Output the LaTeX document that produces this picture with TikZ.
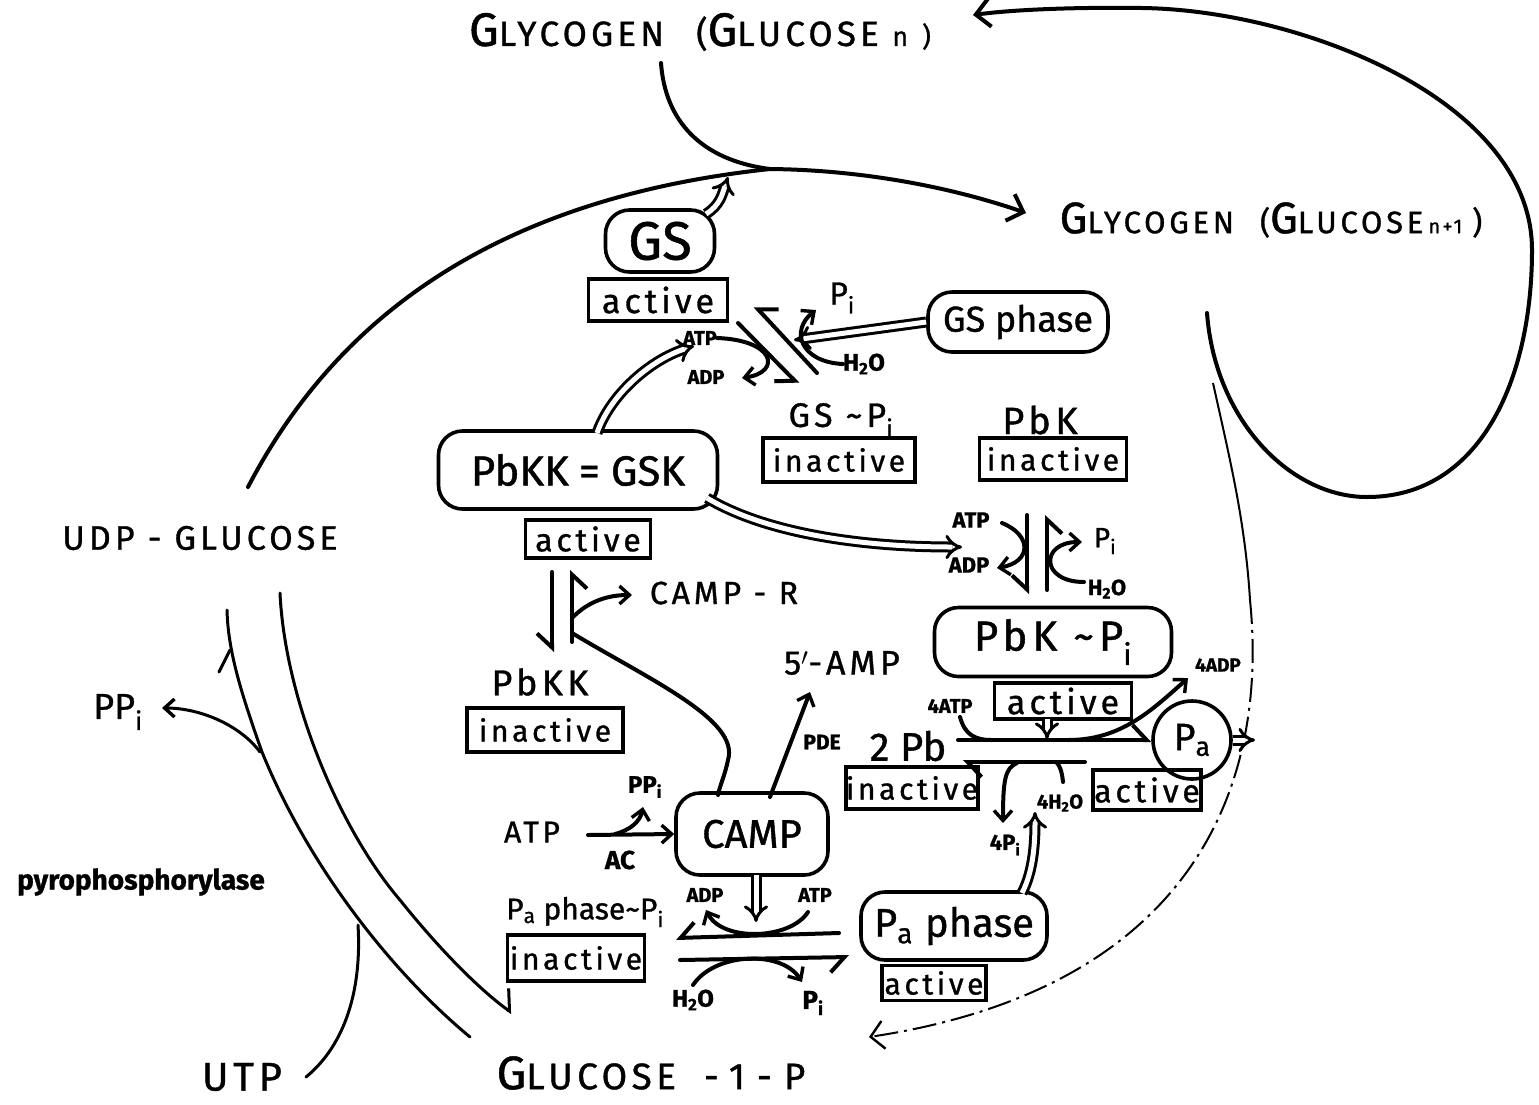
\documentclass[tikz,border=0pt]{standalone}
\usepackage{fontspec}
\setmainfont{Fira Sans}[FakeBold=1]
\newfontfamily\wide{Fira Sans}[LetterSpace=12,FakeBold=1]
\usetikzlibrary{arrows.meta}
\newcommand\fs[1]{\fontsize{#1}{#1}\selectfont}
\newcommand\Gcap[1]{{\fontsize{44}{44}\selectfont #1}}
\newcommand\Gcapb[1]{{\fontsize{47}{47}\selectfont #1}}
\begin{document}
\begin{tikzpicture}[x=1pt,y=-1pt,
  ln/.style={line width=4pt, line cap=round, line join=round},
  thin/.style={line width=3pt, line cap=round, line join=round},
  arr/.style={-{Straight Barb[length=14pt,width=28pt,line width=4pt]}},
  sarr/.style={-{Straight Barb[length=10pt,width=18pt,line width=3.4pt]}},
  hr/.style={-{Straight Barb[right,length=14pt,width=30pt,line width=4pt]}},
  hl/.style={-{Straight Barb[left,length=14pt,width=30pt,line width=4pt]}},
  dbl/.style={double, double distance=5pt, line width=3pt, -{Implies[length=10pt,width=24pt]}},
  lab/.style={inner sep=0pt},
  ebox/.style={draw, line width=3.6pt, rounded corners=24pt, inner sep=0pt},
  sbox/.style={draw, line width=3.6pt, inner sep=0pt},
]
\fill[white] (0,0) rectangle (1539,1104);
\useasboundingbox (0,0) rectangle (1539,1104);

% ---------- big labels ----------
\node[lab, font=\wide\fs{35}] (glyn) at (700,32) {\Gcapb{G}LYCOGEN\hspace{32pt}(\Gcapb{G}LUCOSE \fs{27}n\hspace{14pt})};
\node[lab, font=\wide\fs{31}] (glyn1) at (1271,220) {\Gcap{G}LYCOGEN\hspace{26pt}(\Gcap{G}LUCOSE\,{\fs{20}n+1}\hspace{10pt})};
\node[lab, font=\wide\fs{34}] (udp) at (200,538) {UDP - GLUCOSE};
\node[lab, font=\wide\fs{37}] (g1p) at (651,1073) {\Gcapb{G}LUCOSE\hspace{28pt}-\hspace{10pt}1\hspace{12pt}-\hspace{12pt}P};
\node[lab, font=\wide\fs{40}] (utp) at (242,1077) {UTP};
\node[lab, font=\fs{36}] (ppi) at (118,712) {PP\textsubscript{i}};
\node[lab, font=\bfseries\fs{28}] (pyro) at (141,882) {pyrophosphorylase};

% ---------- GS part ----------
\node[ebox, minimum width=109pt, minimum height=62pt, font=\fs{54}] (gs) at (660,241) {GS};
\node[sbox, minimum width=139pt, minimum height=42pt, font=\wide\fs{34}] (gsact) at (658,300) {active};
\node[lab, font=\fs{32}] (pi1) at (842,298) {P\textsubscript{i}};
\node[ebox, minimum width=180pt, minimum height=60pt, font=\fs{36}] (gsph) at (1018,322) {GS phase};
\node[lab, font=\bfseries\fs{20}] (atp1) at (700,338) {ATP};
\node[lab, font=\bfseries\fs{20}] (adp1) at (706,377) {ADP};
\node[lab, font=\bfseries\fs{24}] (h2o1) at (864,364) {H\textsubscript{2}O};
\node[lab, font=\wide\fs{34}] (gspi) at (841,420) {GS \textasciitilde P\textsubscript{i}};
\node[sbox, minimum width=152pt, minimum height=44pt, font=\wide\fs{30}] (gspiin) at (839,460) {inactive};
\node[lab, font=\wide\fs{38}] (pbk) at (1040,420) {PbK};
\node[sbox, minimum width=147pt, minimum height=42pt, font=\wide\fs{30}] (pbkin) at (1053,459) {inactive};

% ---------- PbKK ----------
\node[ebox, minimum width=279pt, minimum height=78pt, font=\fs{42}] (pbkk) at (578,470) {PbKK\hspace{10pt}= GSK};
\node[sbox, minimum width=125pt, minimum height=38pt, font=\wide\fs{32}] (pbkkact) at (588,539) {active};
\node[lab, font=\wide\fs{32}] (camr) at (724,593) {CAMP - R};
\node[lab, font=\wide\fs{36}] (pbkk2) at (540,682) {PbKK};
\node[sbox, minimum width=156pt, minimum height=44pt, font=\wide\fs{30}] (pbkkin) at (545,730) {inactive};
\node[lab, font=\wide\fs{34}] (amp) at (842,663) {5$'$-AMP};

% ---------- PbK part ----------
\node[lab, font=\bfseries\fs{22}] (atp2) at (971,520) {ATP};
\node[lab, font=\bfseries\fs{22}] (adp2) at (969,565) {ADP};
\node[lab, font=\fs{28}] (pi2) at (1105,541) {P\textsubscript{i}};
\node[lab, font=\bfseries\fs{22}] (h2o2) at (1107,589) {H\textsubscript{2}O};
\node[ebox, minimum width=237pt, minimum height=69pt, font=\wide\fs{42}] (pbkpi) at (1053,642) {PbK \textasciitilde P\textsubscript{i}};
\node[sbox, minimum width=137pt, minimum height=36pt, font=\wide\fs{34}] (pbkpiact) at (1063,701) {active};
\node[lab, font=\bfseries\fs{20}] (atp4) at (950,706) {4ATP};
\node[lab, font=\bfseries\fs{19}] (adp4) at (1218,665) {4ADP};
\node[lab, font=\fs{40}] (pb2) at (908,746) {2 Pb};
\node[sbox, minimum width=127pt, minimum height=42pt, font=\wide\fs{30}] (pbin) at (912,788) {inactive};
\node[draw, circle, line width=3.6pt, minimum size=78pt, inner sep=0pt, font=\fs{38}] (pa) at (1192,740) {P\textsubscript{a}};
\node[sbox, minimum width=108pt, minimum height=40pt, font=\wide\fs{32}] (paact) at (1147,790) {active};
\node[lab, font=\bfseries\fs{20}] (h2o4) at (1060,803) {4H\textsubscript{2}O};
\node[lab, font=\bfseries\fs{22}] (pi4) at (1005,845) {4P\textsubscript{i}};

% ---------- CAMP part ----------
\node[ebox, minimum width=152pt, minimum height=82pt, font=\fs{40}] (camp) at (752,834) {CAMP};
\node[lab, font=\wide\fs{30}] (atp3) at (532,832) {ATP};
\node[lab, font=\bfseries\fs{26}] (ac) at (620,860) {AC};
\node[lab, font=\bfseries\fs{24}] (ppi3) at (645,787) {PP\textsubscript{i}};
\node[lab, font=\bfseries\fs{21}] (pde) at (822,742) {PDE};
\node[lab, font=\fs{30}] (paphpi) at (585,912) {P\textsubscript{a} phase\textasciitilde P\textsubscript{i}};
\node[sbox, minimum width=137pt, minimum height=46pt, font=\wide\fs{30}] (paphin) at (576,958) {inactive};
\node[lab, font=\bfseries\fs{20}] (adp3) at (705,895) {ADP};
\node[lab, font=\bfseries\fs{20}] (atp5) at (815,895) {ATP};
\node[lab, font=\bfseries\fs{24}] (h2o3) at (693,1000) {H\textsubscript{2}O};
\node[lab, font=\bfseries\fs{26}] (pi3) at (813,1003) {P\textsubscript{i}};
\node[ebox, minimum width=186pt, minimum height=68pt, font=\fs{40}] (paph) at (954,926) {P\textsubscript{a}\hspace{12pt}phase};
\node[sbox, minimum width=104pt, minimum height=35pt, font=\wide\fs{30}] (paphact) at (934,983) {active};

% ---------- main glycogen cycle ----------
\coordinate (top) at (770,169);
\coordinate (udptop) at (248,487);
\coordinate (glynbot) at (661,63);
\draw[ln,arr] (udptop) .. controls (330,330) and (480,200) .. (top)
      .. controls (870,170) and (960,190) .. (1026,213);
\draw[ln] (glynbot) .. controls (665,120) and (700,160) .. (top);
\draw[ln,arr] (1207,313) .. controls (1215,420) and (1290,497) .. (1367,497)
      .. controls (1480,497) and (1532,380) .. (1532,250)
      .. controls (1532,100) and (1300,10) .. (1142,8)
      .. controls (1070,7) and (1010,10) .. (973,15);
\draw[dbl] (706,214) .. controls (720,205) and (722,195) .. (728,177);

% dashed return
\draw[line width=2pt] (1213,383) .. controls (1230,460) and (1245,520) .. (1250,600);
\draw[line width=2pt, dash pattern=on 24pt off 6pt on 3pt off 6pt,
      -{Straight Barb[length=13pt,width=28pt,line width=2.4pt]}]
      (1250,600) .. controls (1270,800) and (1180,990) .. (869,1037);

% ---------- UDP-glucose / glucose-1-P ----------
\draw[thin] (470,1037) .. controls (395,975) and (310,870) .. (262,752)
      .. controls (240,690) and (228,650) .. (227,610);
\draw[thin] (219,672) -- (230,650);
\draw[thin, -{Straight Barb[left,length=14pt,width=36pt,line width=3pt]}]
      (280,593) .. controls (285,700) and (340,830) .. (400,900)
      .. controls (440,950) and (480,990) .. (512,1013);
\draw[thin] (358,925) .. controls (362,990) and (345,1045) .. (306,1077);
\draw[thin, sarr] (260,752) .. controls (240,725) and (200,708) .. (162,708);

% ---------- GS <-> GS~Pi ----------
\draw[ln,hr] (738,323) -- (798,384);
\draw[ln,hr] (817,373) -- (755,306);
\draw[ln,sarr] (atp1.east) .. controls (775,340) and (782,372) .. (742,378);
\draw[ln,sarr] (h2o1.west) .. controls (800,362) and (790,330) .. (816,310);
\draw[dbl] (gsph.west) -- (794,340);
\draw[dbl] (597,433) .. controls (610,395) and (650,360) .. (694,346);

% ---------- PbK <-> PbK~Pi ----------
\draw[dbl] (707,498) .. controls (760,530) and (850,547) .. (962,547);
\draw[ln,hr] (1027,515) -- (1027,594);
\draw[ln,hr] (1047,590) -- (1047,515);
\draw[ln,sarr] (1002,523) .. controls (1032,535) and (1032,562) .. (997,568);
\draw[ln,sarr] (1084,582) .. controls (1040,582) and (1040,542) .. (1082,542);

% ---------- PbKK active <-> inactive ----------
\draw[ln,hr] (552,572) -- (552,652);
\draw[ln,hr] (572,642) -- (572,570);
\draw[ln,sarr] (573,617) .. controls (590,600) and (610,595) .. (632,595);
\draw[ln] (572,633) .. controls (650,680) and (740,720) .. (728,760)
      .. controls (725,775) and (720,785) .. (718,795);

% ---------- CAMP ----------
\draw[ln,sarr] (770,797) -- (810,692);
\draw[ln,sarr] (588,835) -- (camp.west);
\draw[ln,sarr] (615,834) .. controls (630,830) and (640,822) .. (643,807);
\draw[dbl] (756,875) -- (756,922);

% ---------- Pa phase <-> Pa phase~Pi ----------
\draw[ln,hr] (839,933) -- (676,938);
\draw[ln,sarr] (808,912) .. controls (790,940) and (722,942) .. (706,910);
\draw[ln,hr] (680,960) -- (849,957);
\draw[ln,sarr] (693,985) .. controls (715,952) and (782,950) .. (802,982);
\draw[dbl] (1022,893) .. controls (1034,870) and (1035,840) .. (1035,812);

% ---------- Pb <-> Pa ----------
\draw[ln,hl] (958,740) -- (pa.west);
\draw[ln] (960,717) .. controls (965,735) and (975,740) .. (992,740);
\draw[ln,sarr] (1068,740) .. controls (1120,740) and (1150,712) .. (1188,678);
\draw[dbl] (1047,719) -- (1047,739);
\draw[ln,hl] (1085,762) -- (963,762);
\draw[ln,sarr] (1017,763) .. controls (1005,768) and (1003,780) .. (1003,823);
\draw[ln] (1063,782) .. controls (1062,772) and (1060,766) .. (1057,763);
\draw[dbl] (pa.east) -- (1255,740);
\end{tikzpicture}
\end{document}
